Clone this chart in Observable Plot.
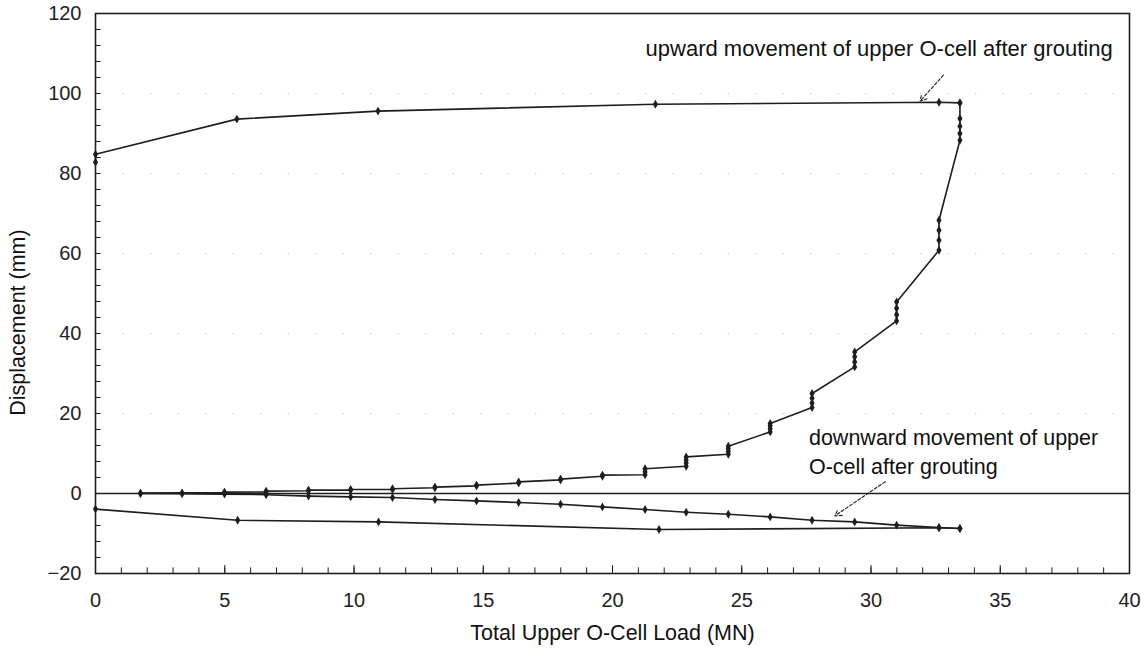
<!DOCTYPE html>
<html>
<head>
<meta charset="utf-8">
<script src="https://cdn.jsdelivr.net/npm/d3@7"></script>
<script src="https://cdn.jsdelivr.net/npm/@observablehq/plot@0.6"></script>
<style>
  body { margin: 0; background: #ffffff; }
  #chart svg { display: block; }
</style>
</head>
<body>
<div id="chart"></div>
<script>
// Upward movement of upper O-cell: loading (with creep holds)
const upLoadingLoad = [1.74, 3.35, 4.99, 4.99, 6.6, 6.6, 8.24, 8.24, 9.87, 9.87, 11.49, 11.49, 13.13, 13.13,
  14.74, 14.74, 16.37, 16.37, 17.99, 17.99, 19.61, 19.61, 21.26, 21.26, 21.26,
  22.85, 22.85, 22.85, 22.85, 24.48, 24.48, 24.48, 24.48, 26.1, 26.1, 26.1, 26.1,
  27.72, 27.72, 27.72, 27.72, 29.37, 29.37, 29.37, 29.37, 30.99, 30.99, 30.99, 30.99,
  32.63, 32.63, 32.63, 32.63, 33.44, 33.44, 33.44, 33.44, 33.44];
const upLoadingDisp = [0.1, 0.15, 0.2, 0.35, 0.4, 0.6, 0.7, 0.85, 0.85, 1.0, 1.0, 1.2, 1.45, 1.6,
  1.9, 2.1, 2.6, 2.9, 3.4, 3.6, 4.3, 4.6, 4.7, 5.4, 6.2,
  6.8, 7.6, 8.4, 9.15, 9.8, 10.5, 11.2, 11.8, 15.4, 16.2, 16.9, 17.5,
  21.5, 22.6, 23.8, 25.0, 31.65, 32.9, 34.2, 35.4, 43.15, 44.7, 46.3, 47.9,
  60.8, 63.3, 65.8, 68.3, 88.3, 90.0, 91.8, 93.75, 97.65];

// Upward movement: unloading
const upUnloadLoad = [33.44, 32.63, 21.66, 10.93, 5.47, 0, 0];
const upUnloadDisp = [97.65, 97.8, 97.3, 95.6, 93.6, 84.8, 82.8];

// Downward movement of upper O-cell: loading
const downLoadingLoad = [1.74, 3.35, 4.99, 6.6, 8.24, 9.87, 11.49, 13.13, 14.74, 16.37, 17.99,
  19.61, 21.26, 22.85, 24.48, 26.1, 27.72, 29.37, 30.99, 32.63, 33.44];
const downLoadingDisp = [0, -0.05, -0.15, -0.3, -0.65, -0.85, -1.0, -1.5, -1.85, -2.25, -2.7,
  -3.35, -4.0, -4.7, -5.2, -5.85, -6.7, -7.1, -7.9, -8.5, -8.75];

// Downward movement: unloading
const downUnloadLoad = [33.44, 32.63, 21.8, 10.95, 5.5, 0];
const downUnloadDisp = [-8.75, -8.55, -9.0, -7.1, -6.7, -3.9];

// Axes
const xTickValues = [0, 5, 10, 15, 20, 25, 30, 35, 40];
const xMinorTicks = d3.range(1, 40);
const yTickValues = [-20, 0, 20, 40, 60, 80, 100, 120];
const yMinorTicks = d3.range(-16, 120, 4);
const gridY = [20, 40, 60, 80, 100];
const xTitle = "Total Upper O-Cell Load (MN)";
const yTitle = "Displacement (mm)";

// Annotations
const upNote = "upward movement of upper O-cell after grouting";
const upNoteX = 39.35, upNoteY = 111.2;
const downNote = "downward movement of upper\nO-cell after grouting";
const downNoteX = 27.6, downNoteY = 10.9;
const arrowX1 = [32.8, 30.55];
const arrowY1 = [104.6, 2.95];
const arrowX2 = [31.9, 28.6];
const arrowY2 = [98.1, -5.6];

const toPts = (xs, ys) => xs.map((x, i) => ({x, y: ys[i]}));
const upLoading = toPts(upLoadingLoad, upLoadingDisp);
const upUnload = toPts(upUnloadLoad, upUnloadDisp);
const downLoading = toPts(downLoadingLoad, downLoadingDisp);
const downUnload = toPts(downUnloadLoad, downUnloadDisp);
const arrows = arrowX1.map((x1, i) => ({x1, y1: arrowY1[i], x2: arrowX2[i], y2: arrowY2[i]}));

const ink = "#1e1e1e";
const lineOpts = {x: "x", y: "y", stroke: ink, strokeWidth: 1.6};
const dotOpts = {x: "x", y: "y", r: 2.7, fill: ink, symbol: "diamond"};

const chart = Plot.plot({
  width: 1141,
  height: 651,
  marginLeft: 95,
  marginRight: 12,
  marginTop: 13,
  marginBottom: 78,
  style: {fontFamily: "'Liberation Sans', Arial, sans-serif", fontSize: "20px", color: "#222", background: "#fff"},
  x: {domain: [0, 40]},
  y: {domain: [-20, 120]},
  marks: [
    Plot.ruleY(gridY, {stroke: "#aaa", strokeWidth: 1, strokeDasharray: "1.5,26", strokeOpacity: 0.6}),
    Plot.ruleY([0], {stroke: ink, strokeWidth: 1.4}),
    // inward minor / major ticks
    Plot.ruleX(xMinorTicks, {x: d => d, y1: -20, y2: -18.6, stroke: ink, strokeWidth: 1}),
    Plot.ruleX(xTickValues, {x: d => d, y1: -20, y2: -18.0, stroke: ink, strokeWidth: 1}),
    Plot.ruleY(yMinorTicks, {y: d => d, x1: 0, x2: 0.22, stroke: ink, strokeWidth: 1}),
    Plot.axisX({ticks: xTickValues, tickSize: 0, tickPadding: 19, fontSize: 20, label: null}),
    Plot.axisY({ticks: yTickValues, tickSize: 0, tickPadding: 14, fontSize: 20, label: null}),
    Plot.frame({stroke: ink, strokeWidth: 1.6}),
    Plot.line(upLoading, lineOpts),
    Plot.line(upUnload, lineOpts),
    Plot.line(downLoading, lineOpts),
    Plot.line(downUnload, lineOpts),
    Plot.dot(upLoading, dotOpts),
    Plot.dot(upUnload, dotOpts),
    Plot.dot(downLoading, dotOpts),
    Plot.dot(downUnload, dotOpts),
    Plot.arrow(arrows, {x1: "x1", y1: "y1", x2: "x2", y2: "y2", stroke: ink, strokeWidth: 1.1, strokeDasharray: "3,2", headLength: 10}),
    Plot.text([upNote], {x: upNoteX, y: upNoteY, textAnchor: "end", lineAnchor: "middle", fontSize: 22, fill: "#111"}),
    Plot.text([downNote], {x: downNoteX, y: downNoteY, textAnchor: "start", lineAnchor: "middle", fontSize: 21.5, lineHeight: 1.36, fill: "#111"}),
    Plot.text([xTitle], {frameAnchor: "bottom", dy: 60, textAnchor: "middle", lineAnchor: "middle", fontSize: 21.5, fill: "#111"}),
    Plot.text([yTitle], {frameAnchor: "left", dx: -77, dy: 29, rotate: -90, textAnchor: "middle", lineAnchor: "middle", fontSize: 21.5, fill: "#111"})
  ]
});
document.getElementById("chart").appendChild(chart);
</script>
</body>
</html>
